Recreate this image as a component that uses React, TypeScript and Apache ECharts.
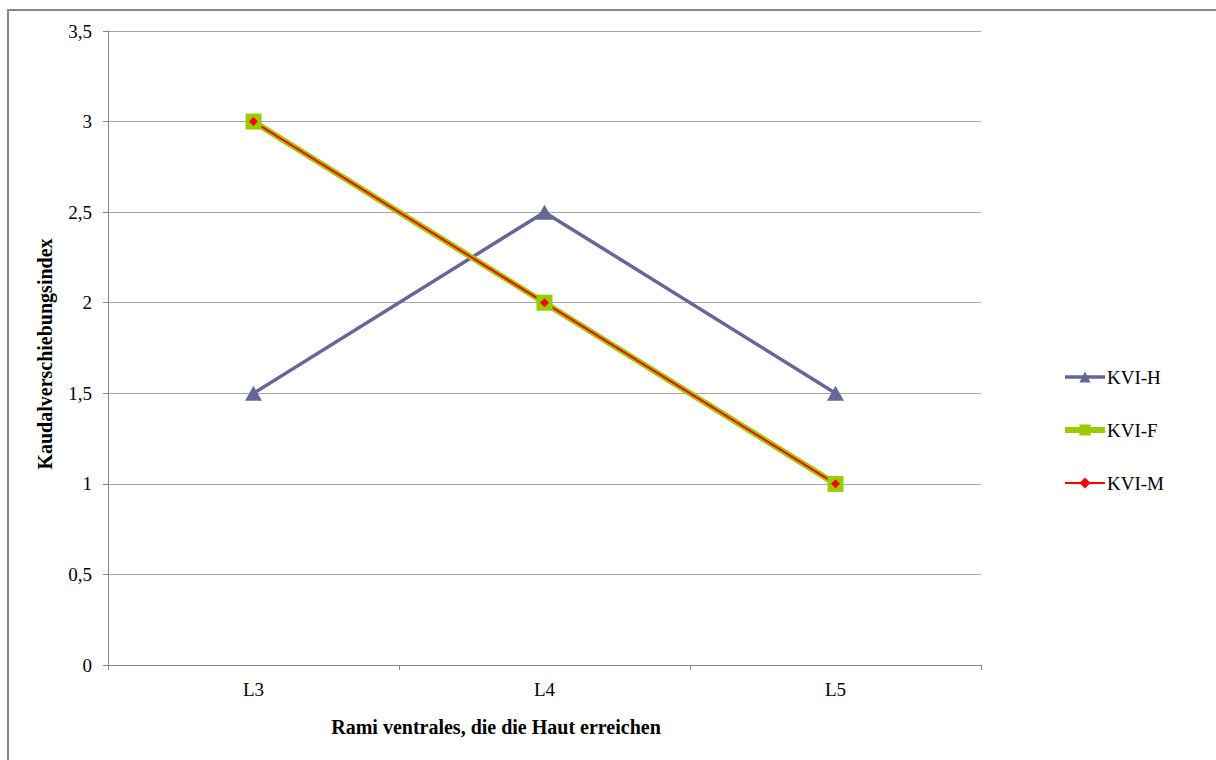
import React, { useEffect, useRef } from "react";
import * as echarts from "echarts";

const categories = ["L3", "L4", "L5"];
const kviH = [1.5, 2.5, 1.5];
const kviF = [3, 2, 1];
const kviM = [3, 2, 1];
const yTicks = [0, 0.5, 1, 1.5, 2, 2.5, 3, 3.5];

const FONT = "'Liberation Serif', 'Times New Roman', serif";

export default function App() {
  const ref = useRef<HTMLDivElement>(null);

  useEffect(() => {
    if (!ref.current) return;
    const chart = echarts.init(ref.current, null, { renderer: "svg" });
    chart.setOption({
      animation: false,
      backgroundColor: "#ffffff",
      textStyle: { fontFamily: FONT },
      grid: { left: 108, right: 235, top: 31, bottom: 95 },
      xAxis: {
        type: "category",
        data: categories,
        boundaryGap: true,
        axisLine: { lineStyle: { color: "#868686", width: 1 } },
        axisTick: { show: true, alignWithLabel: false, length: 5, lineStyle: { color: "#868686" } },
        axisLabel: { color: "#000", fontSize: 19, fontFamily: FONT, margin: 15 },
        splitLine: { show: false },
      },
      yAxis: {
        type: "value",
        min: yTicks[0],
        max: yTicks[yTicks.length - 1],
        interval: 0.5,
        axisLine: { show: true, lineStyle: { color: "#868686", width: 1 } },
        axisTick: { show: true, length: 5, lineStyle: { color: "#868686" } },
        axisLabel: {
          color: "#000",
          fontSize: 19,
          fontFamily: FONT,
          margin: 16,
          formatter: (v: number) => String(v).replace(".", ","),
        },
        splitLine: { show: true, lineStyle: { color: "#a6a6a6", width: 1 } },
      },
      legend: {
        orient: "vertical",
        left: 1062,
        top: 366,
        padding: 0,
        itemWidth: 40,
        itemHeight: 14,
        itemGap: 31,
        textStyle: { color: "#000", fontSize: 19, lineHeight: 22, fontFamily: FONT, padding: [0, 0, 0, -3] },
        data: [
          { name: "KVI-H", lineStyle: { width: 3.5 } },
          { name: "KVI-F", lineStyle: { width: 6 } },
          { name: "KVI-M", lineStyle: { width: 2 } },
        ],
      },
      series: [
        {
          name: "KVI-H",
          type: "line",
          data: kviH,
          symbol: "triangle",
          symbolSize: [17, 15],
          color: "#666699",
          lineStyle: { color: "#666699", width: 3.5 },
          itemStyle: { color: "#666699" },
        },
        {
          name: "KVI-F",
          type: "line",
          data: kviF,
          symbol: "rect",
          symbolSize: 16,
          color: "#99cc00",
          lineStyle: { color: "#99cc00", width: 6 },
          itemStyle: { color: "#99cc00" },
        },
        {
          name: "KVI-M",
          type: "line",
          data: kviM,
          symbol: "diamond",
          symbolSize: 9,
          color: "#ff0000",
          lineStyle: { color: "#ff0000", width: 2 },
          itemStyle: { color: "#ff0000" },
        },
      ],
      graphic: [
        {
          type: "rect",
          shape: { x: 8, y: 10, width: 1240, height: 800 },
          style: { fill: "none", stroke: "#868686", lineWidth: 2 },
          silent: true,
        },
        {
          type: "text",
          x: 496,
          y: 727,
          style: {
            text: "Rami ventrales, die die Haut erreichen",
            font: `bold 20px ${FONT}`,
            fill: "#000",
            align: "center",
            verticalAlign: "middle",
          },
        },
        {
          type: "text",
          x: 45,
          y: 354,
          rotation: Math.PI / 2,
          style: {
            text: "Kaudalverschiebungsindex",
            font: `bold 20px ${FONT}`,
            fill: "#000",
            align: "center",
            verticalAlign: "middle",
          },
        },
      ],
    });
    return () => chart.dispose();
  }, []);

  return (
    <div
      ref={ref}
      style={{ position: "fixed", left: 0, top: 0, width: 1216, height: 760 }}
    />
  );
}
